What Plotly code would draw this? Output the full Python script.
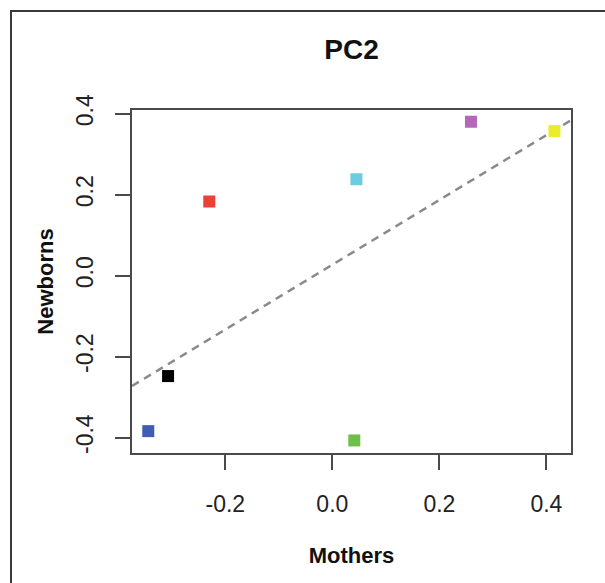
import plotly.graph_objects as go

# Data
mothers = [-0.344, -0.307, -0.230, 0.045, 0.041, 0.259, 0.415]
newborns = [-0.384, -0.248, 0.183, 0.238, -0.407, 0.380, 0.357]
point_colors = ["#3f5db5", "#000000", "#ec4038", "#6ccde0", "#6cc04a", "#b466b8", "#ecec2e"]

fit_slope = 0.80
fit_intercept = 0.027

x_range = [-0.3744, 0.446]
y_range = [-0.438, 0.409]
tick_vals = [-0.4, -0.2, 0.0, 0.2, 0.4]
tick_text = ["-0.4", "-0.2", "0.0", "0.2", "0.4"]

W, H = 605, 583
L, R, T, B = 132, 34, 110, 130

fig = go.Figure()

fig.add_trace(go.Scatter(
    x=x_range,
    y=[fit_intercept + fit_slope * v for v in x_range],
    mode="lines",
    line=dict(color="#8a8a8a", width=2.5, dash="8px,6px"),
    hoverinfo="skip",
    showlegend=False,
))

fig.add_trace(go.Scatter(
    x=mothers, y=newborns, mode="markers",
    marker=dict(symbol="square", size=12, color=point_colors, line=dict(width=0)),
    showlegend=False,
))

font_family = "Liberation Sans, Arial, sans-serif"

axis_common = dict(
    showline=True, linecolor="#4a4a4a", linewidth=2, mirror=True,
    ticks="outside", ticklen=15, tickwidth=2, tickcolor="#4a4a4a",
    showgrid=False, zeroline=False,
    tickfont=dict(family=font_family, size=23, color="#222222"),
)

fig.update_xaxes(
    range=x_range, ticklabelstandoff=14,
    tickvals=[-0.2, 0.0, 0.2, 0.4], ticktext=["-0.2", "0.0", "0.2", "0.4"],
    title=dict(text="<b>Mothers</b>", font=dict(family=font_family, size=22, color="#111111"), standoff=32),
    **axis_common,
)
fig.update_yaxes(
    range=y_range, tickangle=-90, ticklabelstandoff=13,
    tickvals=tick_vals, ticktext=tick_text,
    title=dict(text="<b>Newborns</b>", font=dict(family=font_family, size=22, color="#111111"), standoff=12),
    **axis_common,
)

# outer frame (left and top edges visible)
def px_to_paper_x(px):
    return (px - L) / (W - L - R)

def px_to_paper_y(py):
    return 1 - (py - T) / (H - T - B)

fig.add_shape(
    type="rect", xref="paper", yref="paper",
    x0=px_to_paper_x(11), x1=px_to_paper_x(640),
    y0=px_to_paper_y(620), y1=px_to_paper_y(11),
    line=dict(color="#3a3a3a", width=2), fillcolor="rgba(0,0,0,0)", layer="below",
)

fig.update_layout(
    width=W, height=H,
    margin=dict(l=L, r=R, t=T, b=B),
    paper_bgcolor="white", plot_bgcolor="white",
    title=dict(text="<b>PC2</b>", x=(L + (W - L - R) / 2) / W, xanchor="center",
               y=1 - 49 / H, yanchor="middle",
               font=dict(family=font_family, size=28, color="#111111")),
    font=dict(family=font_family),
)

fig.write_html(
    "out.html",
    config={"displayModeBar": False},
    post_script="document.body.style.margin='0';document.body.style.padding='0';document.body.style.overflow='hidden';",
)
